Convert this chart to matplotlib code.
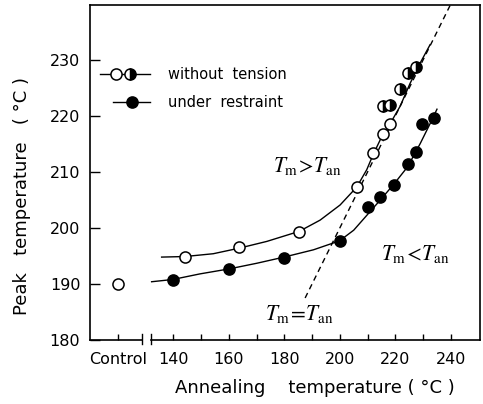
import matplotlib.pyplot as plt
from matplotlib.lines import Line2D

plt.rcParams['mathtext.fontset'] = 'stix'

# measured peaks, annealed without tension
open_x = [144.2, 163.8, 185.4, 206.1, 212.1, 215.5, 218.1]
open_y = [194.8, 196.6, 199.3, 207.4, 213.3, 216.7, 218.5]
half_x = [215.5, 218.1, 221.7, 224.4, 227.5]
half_y = [221.8, 222.0, 224.8, 227.7, 228.8]

# measured peaks, annealed under restraint
fill_x = [139.8, 160.2, 179.9, 199.9, 210.0, 214.5, 219.6, 224.4, 227.5, 229.6, 233.8]
fill_y = [190.7, 192.7, 194.7, 197.6, 203.75, 205.6, 207.7, 211.5, 213.6, 218.6, 219.7]

control_x = [120]
control_y = [190.0]

# hand-drawn trend curves
open_curve_x = [135.8, 144.2, 154.4, 163.8, 173.7, 185.4, 192.9, 200.1, 206.1, 209.7,
                212.1, 215.5, 218.1, 221.7, 225.3, 228.9, 232.5]
open_curve_y = [194.8, 194.9, 195.4, 196.4, 197.6, 199.4, 201.4, 204.1, 207.3, 210.4,
                213.2, 216.7, 218.6, 221.7, 225.8, 229.4, 232.7]
fill_curve_x = [132.2, 139.8, 149.6, 160.2, 170.1, 179.9, 190.5, 199.9, 205.0, 209.8,
                214.6, 219.6, 224.4, 229.0, 232.6, 235.0]
fill_curve_y = [190.4, 190.8, 191.8, 192.7, 193.7, 194.8, 196.1, 197.7, 199.6, 202.3,
                205.0, 207.9, 210.9, 215.1, 218.7, 221.2]

# Tm = Tan reference line
eq_x = [187.5, 240.0]
eq_y = [187.5, 240.0]

xticks = [120, 140, 150, 160, 170, 180, 190, 200, 210, 220, 230, 240]
xlabels = ['Control', '140', '', '160', '', '180', '', '200', '', '220', '', '240']
yticks = [180, 190, 200, 210, 220, 230]

fig = plt.figure(figsize=(4.83, 4.04), dpi=100)
ax = fig.add_axes([90 / 483, 64 / 404, 390 / 483, 335 / 404])
ax.set_xlim(110, 250.5)
ax.set_ylim(180, 239.8)

mk = dict(marker='o', ms=8, mew=1.1, mec='black', ls='none', zorder=3)
ax.plot(open_curve_x, open_curve_y, color='black', lw=1.0)
ax.plot(fill_curve_x, fill_curve_y, color='black', lw=1.0)
ax.plot(eq_x, eq_y, color='black', lw=1.0, ls=(0, (4, 3)))
ax.plot(open_x, open_y, mfc='white', **mk)
ax.plot(half_x, half_y, mfc='black', mfcalt='white', fillstyle='right', **mk)
ax.plot(fill_x, fill_y, mfc='black', **mk)
ax.plot(control_x, control_y, mfc='white', **mk)

# legend drawn by hand in axes coords
t = ax.transAxes
ax.add_line(Line2D([0.026, 0.154], [0.794, 0.794], color='black', lw=1.0, transform=t))
ax.plot([0.067], [0.794], mfc='white', transform=t, **mk)
ax.plot([0.103], [0.794], mfc='black', mfcalt='white', fillstyle='right', transform=t, **mk)
ax.text(0.2, 0.794, 'without  tension', transform=t, va='center', fontsize=10.5)
ax.add_line(Line2D([0.059, 0.154], [0.71, 0.71], color='black', lw=1.0, transform=t))
ax.plot([0.107], [0.71], mfc='black', transform=t, **mk)
ax.text(0.2, 0.71, 'under  restraint', transform=t, va='center', fontsize=10.5)

serif = dict(fontsize=15.5)
ax.text(176.0, 211.0, r'$T_{\rm m}\!>\!T_{\rm an}$', va='center', **serif)
ax.text(215.0, 195.3, r'$T_{\rm m}\!<\!T_{\rm an}$', va='center', **serif)
ax.text(173.0, 184.6, r'$T_{\rm m}\!=\!T_{\rm an}$', va='center', **serif)

# broken bottom axis
ax.spines['bottom'].set_visible(False)
tx = ax.get_xaxis_transform()
ax.add_line(Line2D([110, 128.8], [0, 0], color='black', lw=1.2, transform=tx, clip_on=False))
ax.add_line(Line2D([131.8, 250.5], [0, 0], color='black', lw=1.2, transform=tx, clip_on=False))
for bx in (128.8, 131.8):
    ax.add_line(Line2D([bx, bx], [-0.012, 0.018], color='black', lw=1.0,
                       transform=tx, clip_on=False))

for s in ('left', 'top', 'right'):
    ax.spines[s].set_linewidth(1.2)

ax.set_xticks(xticks)
ax.set_xticklabels(xlabels)
ax.set_yticks(yticks)
ax.tick_params(axis='x', direction='in', length=4, width=1.0, labelsize=11.5, pad=9)
ax.tick_params(axis='y', direction='in', length=7, width=1.0, labelsize=11.5, pad=7)

fig.text(315 / 483, 1 - 388 / 404, 'Annealing    temperature ( °C )', fontsize=13,
         ha='center', va='center')
fig.text(22 / 483, 1 - 196 / 404, 'Peak   temperature   ( °C )', fontsize=13,
         ha='center', va='center', rotation=90)

fig.savefig('out.png', dpi=100)
